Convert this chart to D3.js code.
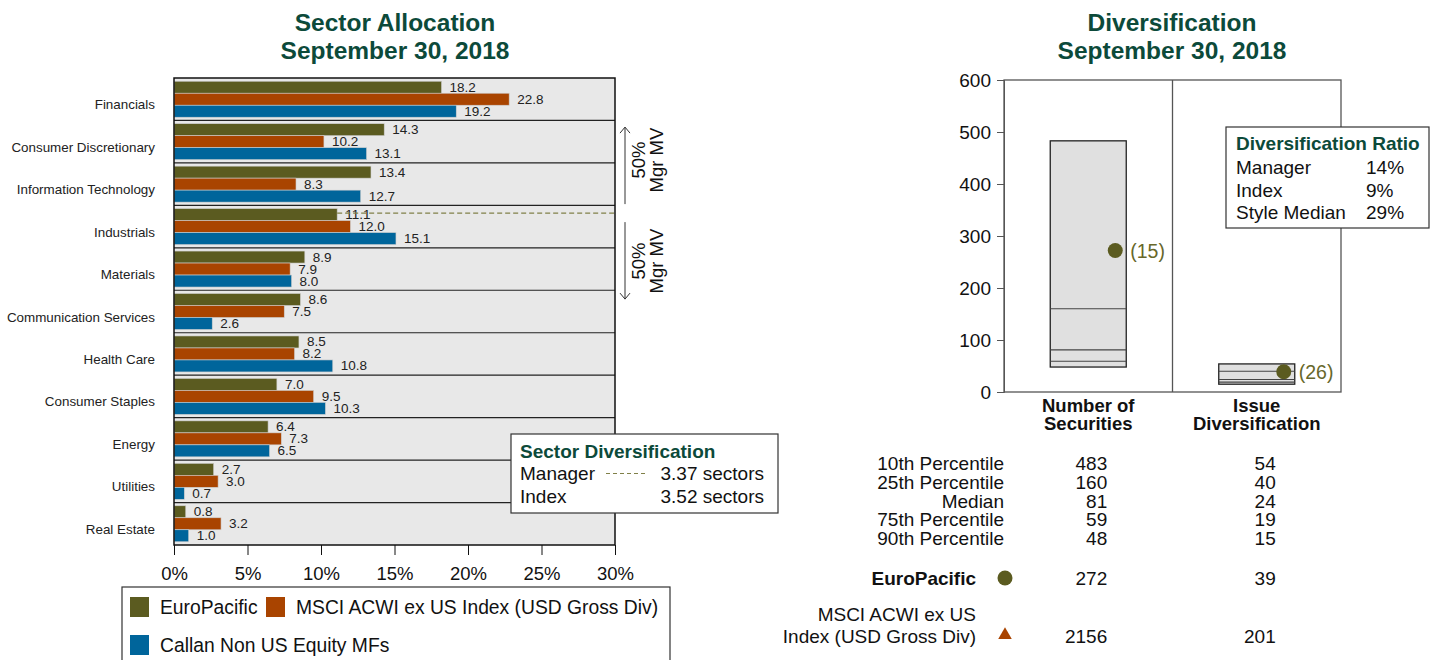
<!DOCTYPE html>
<html><head><meta charset="utf-8">
<script src="https://cdn.jsdelivr.net/npm/d3@7"></script>
<style>
body{margin:0;background:#fff;}
svg text{font-family:"Liberation Sans",Arial,Helvetica,sans-serif;}
</style></head>
<body><svg id="c" width="1442" height="660"></svg>
<script>
// ---------- data ----------
const categories = ["Financials","Consumer Discretionary","Information Technology","Industrials","Materials","Communication Services","Health Care","Consumer Staples","Energy","Utilities","Real Estate"];
const seriesNames = ["EuroPacific","MSCI ACWI ex US Index (USD Gross Div)","Callan Non US Equity MFs"];
const europacific = [18.2,14.3,13.4,11.1,8.9,8.6,8.5,7.0,6.4,2.7,0.8];
const msciIndex   = [22.8,10.2,8.3,12.0,7.9,7.5,8.2,9.5,7.3,3.0,3.2];
const callanMFs   = [19.2,13.1,12.7,15.1,8.0,2.6,10.8,10.3,6.5,0.7,1.0];
const xTicks = [0,5,10,15,20,25,30];
const sectorDivRows = [["Manager","3.37 sectors"],["Index","3.52 sectors"]];
const halfMVCategory = "Industrials";

const divCategories = ["Number of Securities","Issue Diversification"];
const divHeaderLines = [["Number of","Securities"],["Issue","Diversification"]];
const p10 = [483,54];
const p25 = [160,40];
const p50 = [81,24];
const p75 = [59,19];
const p90 = [48,15];
const managerDiv = [272,39];
const indexDiv = [2156,201];
const rankLabels = ["(15)","(26)"];
const yTicks = [0,100,200,300,400,500,600];
const pctLabels = ["10th Percentile","25th Percentile","Median","75th Percentile","90th Percentile"];
const ratioRows = [["Manager","14%"],["Index","9%"],["Style Median","29%"]];

// ---------- styles ----------
const colors = ["#5b5b20","#a94400","#00659b"];
const titleColor = "#0c4a3a";
const svg = d3.select("#c");

// ================= LEFT CHART =================
const x = d3.scaleLinear().domain([0,30]).range([174,615]);
const y = d3.scaleBand().domain(categories).range([78,545]);
const yi = d3.scaleBand().domain(seriesNames).range([0,y.bandwidth()]).paddingInner(0).paddingOuter(0.27);
const seriesVals = [europacific,msciIndex,callanMFs];

svg.append("text").attr("x",395).attr("y",31).attr("text-anchor","middle")
  .attr("font-size",24.5).attr("font-weight","bold").attr("fill",titleColor).text("Sector Allocation");
svg.append("text").attr("x",395).attr("y",59).attr("text-anchor","middle")
  .attr("font-size",24.5).attr("font-weight","bold").attr("fill",titleColor).text("September 30, 2018");

svg.append("rect").attr("x",x(0)).attr("y",78).attr("width",x(30)-x(0)).attr("height",545-78).attr("fill","#e8e8e8");

// bars
const g = svg.append("g");
categories.forEach((c,i)=>{
  seriesNames.forEach((s,j)=>{
    const v = seriesVals[j][i];
    const yy = y(c)+yi(s);
    g.append("rect").attr("x",x(0)).attr("y",yy).attr("width",x(v)-x(0)).attr("height",yi.bandwidth())
      .attr("fill",colors[j]).attr("stroke","#cfcfcf").attr("stroke-width",0.6);
    g.append("text").attr("x",x(v)+8).attr("y",yy+yi.bandwidth()/2+4.5).attr("font-size",13.5).attr("fill","#222").text(v.toFixed(1));
  });
});
// separators
categories.slice(1).forEach(c=>{
  svg.append("line").attr("x1",x(0)).attr("x2",x(30)).attr("y1",y(c)).attr("y2",y(c)).attr("stroke","#222").attr("stroke-width",1.2);
});
// dashed 50% line
const hi = categories.indexOf(halfMVCategory);
const dashY = y(halfMVCategory)+yi(seriesNames[0])+yi.bandwidth()/2-1.5;
svg.append("line").attr("x1",x(europacific[hi])).attr("x2",x(30)).attr("y1",dashY).attr("y2",dashY)
  .attr("stroke","#808048").attr("stroke-width",1.3).attr("stroke-dasharray","5,3");
// frame
svg.append("rect").attr("x",x(0)).attr("y",78).attr("width",x(30)-x(0)).attr("height",545-78).attr("fill","none").attr("stroke","#111").attr("stroke-width",1.5);
// category labels
categories.forEach(c=>{
  svg.append("text").attr("x",155).attr("y",y(c)+y.bandwidth()/2+10).attr("text-anchor","end").attr("font-size",13.4).attr("fill","#222").text(c);
});
// x axis
const xa = svg.append("g").attr("transform","translate(0,545)")
  .call(d3.axisBottom(x).tickValues(xTicks).tickSize(10).tickFormat(d=>d+"%"));
xa.select(".domain").remove();
xa.selectAll("line").attr("stroke","#111");
xa.selectAll("text").attr("font-size",18.5).attr("fill","#111").attr("dy","1.2em");

// arrows & 50% labels
function arrow(y1,y2){
  const ax=625;
  svg.append("line").attr("x1",ax).attr("x2",ax).attr("y1",y1).attr("y2",y2).attr("stroke","#333").attr("stroke-width",1);
  const d = y2>y1?-1:1;
  svg.append("path").attr("d",`M${ax-5},${y2+d*6}L${ax},${y2}L${ax+5},${y2+d*6}`).attr("fill","none").attr("stroke","#333").attr("stroke-width",1);
}
arrow(dashY-9,dashY-86);
arrow(dashY+9,dashY+86);
[[dashY-53],[dashY+48]].forEach(([cy])=>{
  const t = svg.append("text").attr("transform",`translate(645,${cy}) rotate(-90)`).attr("text-anchor","middle").attr("font-size",18.5).attr("fill","#111");
  t.append("tspan").attr("x",0).attr("dy",0).text("50%");
  t.append("tspan").attr("x",0).attr("dy",18).text("Mgr MV");
});

// sector diversification box
const sb = svg.append("g").attr("transform","translate(511,434)");
sb.append("rect").attr("width",267).attr("height",79).attr("fill","#fff").attr("stroke","#333").attr("stroke-width",1.2);
sb.append("text").attr("x",9).attr("y",24).attr("font-size",19).attr("font-weight","bold").attr("fill",titleColor).text("Sector Diversification");
sectorDivRows.forEach((r,i)=>{
  sb.append("text").attr("x",9).attr("y",46+i*23).attr("font-size",19).attr("fill","#111").text(r[0]);
  sb.append("text").attr("x",253).attr("y",46+i*23).attr("text-anchor","end").attr("font-size",19).attr("fill","#111").text(r[1]);
});
sb.append("line").attr("x1",95).attr("x2",137).attr("y1",39.5).attr("y2",39.5).attr("stroke","#808048").attr("stroke-width",1.2).attr("stroke-dasharray","4,3");

// legend
const lg = svg.append("g").attr("transform","translate(122,587)");
lg.append("rect").attr("width",548).attr("height",80).attr("fill","#fff").attr("stroke","#333").attr("stroke-width",1.2);
const legendPos = [[8,20],[144,20],[8,58]];
seriesNames.forEach((s,j)=>{
  const [lx,ly]=legendPos[j];
  lg.append("rect").attr("x",lx).attr("y",ly-10).attr("width",19).attr("height",20).attr("fill",colors[j]);
  lg.append("text").attr("x",lx+30).attr("y",ly+7).attr("font-size",19.3).attr("fill","#111").text(s);
});

// ================= RIGHT CHART =================
const ry = d3.scaleLinear().domain([0,600]).range([392,80]);
const rx = d3.scaleBand().domain(divCategories).range([1004,1341]);
svg.append("text").attr("x",1172).attr("y",31).attr("text-anchor","middle")
  .attr("font-size",24.5).attr("font-weight","bold").attr("fill",titleColor).text("Diversification");
svg.append("text").attr("x",1172).attr("y",59).attr("text-anchor","middle")
  .attr("font-size",24.5).attr("font-weight","bold").attr("fill",titleColor).text("September 30, 2018");

svg.append("rect").attr("x",1004).attr("y",ry(600)).attr("width",1341-1004).attr("height",ry(0)-ry(600)).attr("fill","#fff").attr("stroke","#555").attr("stroke-width",1.3);
svg.append("line").attr("x1",rx(divCategories[1])).attr("x2",rx(divCategories[1])).attr("y1",ry(600)).attr("y2",ry(0)).attr("stroke","#555").attr("stroke-width",1.3);

const ya = svg.append("g").attr("transform","translate(1004,0)").call(d3.axisLeft(ry).tickValues(yTicks).tickSize(7).tickPadding(6));
ya.select(".domain").attr("stroke","#555");
ya.selectAll("line").attr("stroke","#555");
ya.selectAll("text").attr("font-size",19).attr("fill","#111");

const bw = 76;
divCategories.forEach((c,i)=>{
  const cx = rx(c)+rx.bandwidth()/2;
  svg.append("rect").attr("x",cx-bw/2).attr("y",ry(p10[i])).attr("width",bw).attr("height",ry(p90[i])-ry(p10[i]))
    .attr("fill","#e0e0e0").attr("stroke","#222").attr("stroke-width",1.3);
  [p25[i],p50[i],p75[i]].forEach(v=>{
    svg.append("line").attr("x1",cx-bw/2).attr("x2",cx+bw/2).attr("y1",ry(v)).attr("y2",ry(v)).attr("stroke","#444").attr("stroke-width",1.1);
  });
  svg.append("circle").attr("cx",cx+27).attr("cy",ry(managerDiv[i])).attr("r",7.5).attr("fill","#5b5b20");
  svg.append("text").attr("x",cx+42).attr("y",ry(managerDiv[i])+7).attr("font-size",19.5).attr("fill","#67672a").text(rankLabels[i]);
  // headers
  divHeaderLines[i].forEach((t,k)=>{
    svg.append("text").attr("x",cx).attr("y",411.5+k*18.5).attr("text-anchor","middle").attr("font-size",18.5).attr("font-weight","bold").attr("fill","#111").text(t);
  });
  // table values
  const vx = cx+19;
  [p10[i],p25[i],p50[i],p75[i],p90[i]].forEach((v,k)=>{
    svg.append("text").attr("x",vx).attr("y",470+k*18.8).attr("text-anchor","end").attr("font-size",19).attr("fill","#111").text(v);
  });
  svg.append("text").attr("x",vx).attr("y",585).attr("text-anchor","end").attr("font-size",19).attr("fill","#111").text(managerDiv[i]);
  svg.append("text").attr("x",vx).attr("y",643).attr("text-anchor","end").attr("font-size",19).attr("fill","#111").text(indexDiv[i]);
});
pctLabels.forEach((t,k)=>{
  svg.append("text").attr("x",1004).attr("y",470+k*18.8).attr("text-anchor","end").attr("font-size",19).attr("fill","#111").text(t);
});
svg.append("text").attr("x",976).attr("y",585).attr("text-anchor","end").attr("font-size",19).attr("font-weight","bold").attr("fill","#111").text("EuroPacific");
svg.append("circle").attr("cx",1005).attr("cy",578).attr("r",7.5).attr("fill","#5b5b20");
svg.append("text").attr("x",976).attr("y",621).attr("text-anchor","end").attr("font-size",19).attr("fill","#111").text("MSCI ACWI ex US");
svg.append("text").attr("x",976).attr("y",643).attr("text-anchor","end").attr("font-size",19).attr("fill","#111").text("Index (USD Gross Div)");
svg.append("path").attr("d",d3.symbol(d3.symbolTriangle,80)()).attr("transform","translate(1005,635)").attr("fill","#a94400");

// diversification ratio box
const rb = svg.append("g").attr("transform","translate(1226,127)");
rb.append("rect").attr("width",203).attr("height",101).attr("fill","#fff").attr("stroke","#333").attr("stroke-width",1.2);
rb.append("text").attr("x",10).attr("y",23).attr("font-size",19).attr("font-weight","bold").attr("fill",titleColor).text("Diversification Ratio");
ratioRows.forEach((r,i)=>{
  rb.append("text").attr("x",10).attr("y",47+i*22.5).attr("font-size",19).attr("fill","#111").text(r[0]);
  rb.append("text").attr("x",140).attr("y",47+i*22.5).attr("font-size",19).attr("fill","#111").text(r[1]);
});
</script></body></html>
